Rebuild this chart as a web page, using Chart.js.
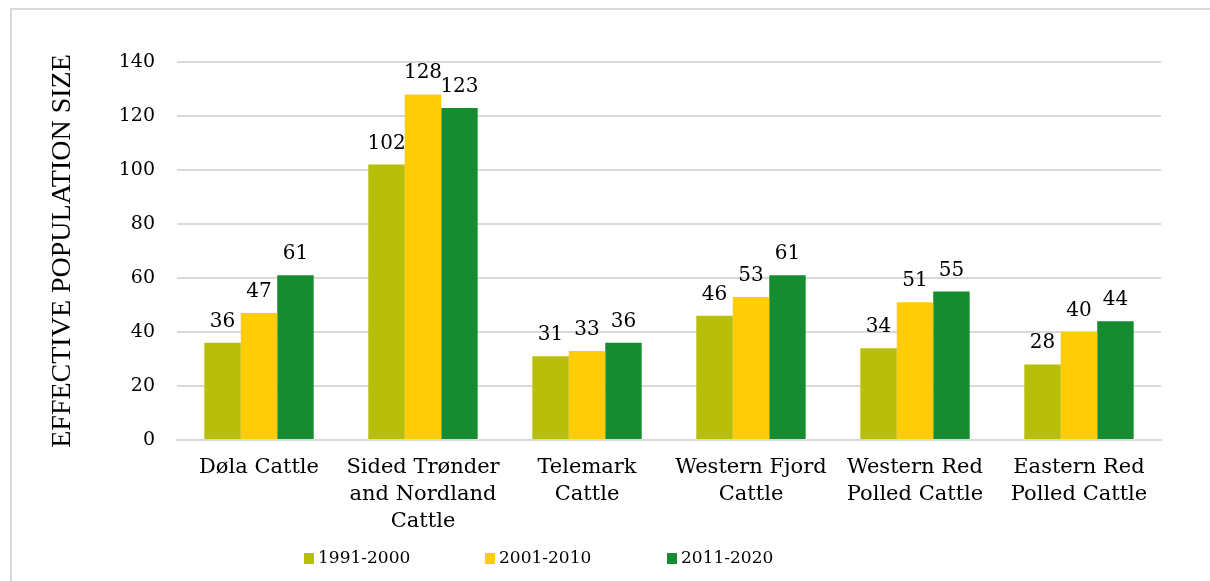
<!DOCTYPE html>
<html>
<head>
<meta charset="utf-8">
<script src="https://cdn.jsdelivr.net/npm/chart.js@4"></script>
<style>
  body { margin: 0; background: #fff; }
  #wrap { position: relative; width: 1210px; height: 581px; overflow: hidden; }
  #frame { position: absolute; left: 10px; top: 8px; width: 1220px; height: 600px; border: 2px solid #d9d9d9; box-sizing: border-box; }
  #box { position: absolute; left: 0; top: 0; width: 1210px; height: 581px; }
  .leg { position: absolute; top: 545px; font-family: 'DejaVu Serif', serif; font-size: 17px; color: #000; line-height: 24px; white-space: nowrap; }
  .leg i { display: inline-block; width: 10px; height: 11px; margin-right: 4px; vertical-align: -1px; }
</style>
</head>
<body>
<div id="wrap">
  <div id="frame"></div>
  <div id="box"><canvas id="myChart"></canvas></div>
  <div class="leg" style="left:304px"><i style="background:#b8bf08"></i>1991-2000</div>
  <div class="leg" style="left:485px"><i style="background:#ffcc08"></i>2001-2010</div>
  <div class="leg" style="left:667px"><i style="background:#168c31"></i>2011-2020</div>
</div>
<script>
const breeds = [
  ['Døla Cattle'],
  ['Sided Trønder', 'and Nordland', 'Cattle'],
  ['Telemark', 'Cattle'],
  ['Western Fjord', 'Cattle'],
  ['Western Red', 'Polled Cattle'],
  ['Eastern Red', 'Polled Cattle']
];
const periods = ['1991-2000', '2001-2010', '2011-2020'];
const ne1991 = [36, 102, 31, 46, 34, 28];
const ne2001 = [47, 128, 33, 53, 51, 40];
const ne2011 = [61, 123, 36, 61, 55, 44];
const colors = ['#b8bf08', '#ffcc08', '#168c31'];

// value labels above each bar
const barLabels = {
  id: 'barLabels',
  afterDatasetsDraw(chart) {
    const ctx = chart.ctx;
    ctx.save();
    ctx.font = '20px "DejaVu Serif"';
    ctx.fillStyle = '#000';
    ctx.textAlign = 'center';
    ctx.textBaseline = 'alphabetic';
    chart.data.datasets.forEach((ds, i) => {
      chart.getDatasetMeta(i).data.forEach((bar, j) => {
        ctx.fillText(ds.data[j], bar.x, bar.y - 16);
      });
    });
    ctx.restore();
  }
};

const data = {
  labels: breeds,
  datasets: [
    { label: periods[0], data: ne1991, backgroundColor: colors[0] },
    { label: periods[1], data: ne2001, backgroundColor: colors[1] },
    { label: periods[2], data: ne2011, backgroundColor: colors[2] }
  ]
};

const config = {
  type: 'bar',
  data: data,
  options: {
    responsive: true,
    maintainAspectRatio: false,
    animation: false,
    datasets: { bar: { categoryPercentage: 0.667, barPercentage: 1, borderWidth: 0 } },
    layout: { padding: { left: 46, top: 62, right: 49, bottom: 0 } },
    plugins: { legend: { display: false }, tooltip: { enabled: false } },
    scales: {
      x: {
        grid: { display: false, drawTicks: false },
        border: { color: '#d9d9d9', width: 2 },
        ticks: {
          color: '#000',
          padding: 14,
          maxRotation: 0,
          autoSkip: false,
          font: { family: 'DejaVu Serif', size: 21, lineHeight: 1.286 }
        },
        afterFit(scale) { scale.height = 141; }
      },
      y: {
        min: 0,
        max: 140,
        grid: { color: '#d9d9d9', lineWidth: 2, drawTicks: false },
        border: { display: false },
        ticks: {
          stepSize: 20,
          color: '#000',
          padding: 22,
          font: { family: 'DejaVu Serif', size: 19 }
        },
        title: {
          display: true,
          text: 'EFFECTIVE POPULATION SIZE',
          color: '#000',
          padding: 0,
          font: { family: 'Liberation Serif', size: 28 }
        },
        afterFit(scale) { scale.width = 131; }
      }
    }
  },
  plugins: [barLabels]
};

const myChart = new Chart(document.getElementById('myChart'), config);
</script>
</body>
</html>
